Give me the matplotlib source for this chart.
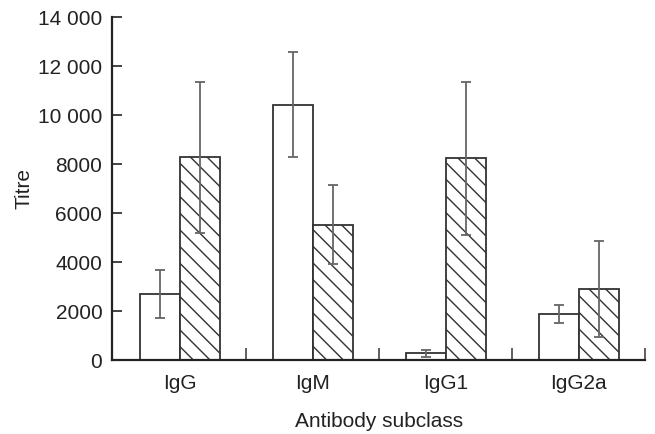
import numpy as np
import matplotlib
matplotlib.use('Agg')
import matplotlib.pyplot as plt

plt.rcParams['font.family'] = ['Liberation Sans', 'DejaVu Sans']
plt.rcParams['hatch.linewidth'] = 1.0
plt.rcParams['hatch.color'] = '#333333'

subclasses = ['IgG', 'IgM', 'IgG1', 'IgG2a']
open_vals = [2680, 10430, 270, 1870]
open_err = [980, 2130, 150, 360]
hatch_vals = [8270, 5520, 8230, 2900]
hatch_err = [3090, 1620, 3140, 1970]

x = np.arange(len(subclasses))
w = 0.3

fig = plt.figure(figsize=(6.55, 4.34), dpi=100)
ax = fig.add_axes([0.171, 0.1705, 0.814, 0.79])

ax.bar(x - w/2, open_vals, w, color='white', edgecolor='#333333', linewidth=1.3)
ax.bar(x + w/2, hatch_vals, w, color='white', edgecolor='#333333', linewidth=1.3,
       hatch='\\\\')
ax.errorbar(x - w/2, open_vals, yerr=open_err, fmt='none', ecolor='#666666',
            elinewidth=1.3, capsize=3.8, capthick=1.3)
ax.errorbar(x + w/2, hatch_vals, yerr=hatch_err, fmt='none', ecolor='#666666',
            elinewidth=1.3, capsize=3.8, capthick=1.3)

ax.set_xlim(-0.51, 3.49)
ax.set_ylim(0, 14000)
ax.set_yticks(np.arange(0, 14001, 2000))
ax.set_yticklabels(['0', '2000', '4000', '6000', '8000', '10 000', '12 000', '14 000'])
ax.set_xticks(x)
ax.set_xticklabels(subclasses)
ax.set_xticks(x + 0.5, minor=True)

for s in ['top', 'right']:
    ax.spines[s].set_visible(False)
for s in ['left', 'bottom']:
    ax.spines[s].set_linewidth(1.6)
    ax.spines[s].set_color('#222222')

ax.tick_params(axis='x', which='major', length=0, labelsize=15, pad=10, colors='#222222')
ax.tick_params(axis='x', which='minor', direction='in', length=9, width=1.2, color='#444444')
ax.tick_params(axis='y', direction='in', length=7, width=1.2, labelsize=15, pad=7,
               colors='#222222')

ax.set_xlabel('Antibody subclass', fontsize=15, labelpad=14, color='#222222')
ax.set_ylabel('Titre', fontsize=15, color='#222222')
ax.yaxis.set_label_coords(-0.148, 0.5)

plt.savefig('out.png', dpi=100)
